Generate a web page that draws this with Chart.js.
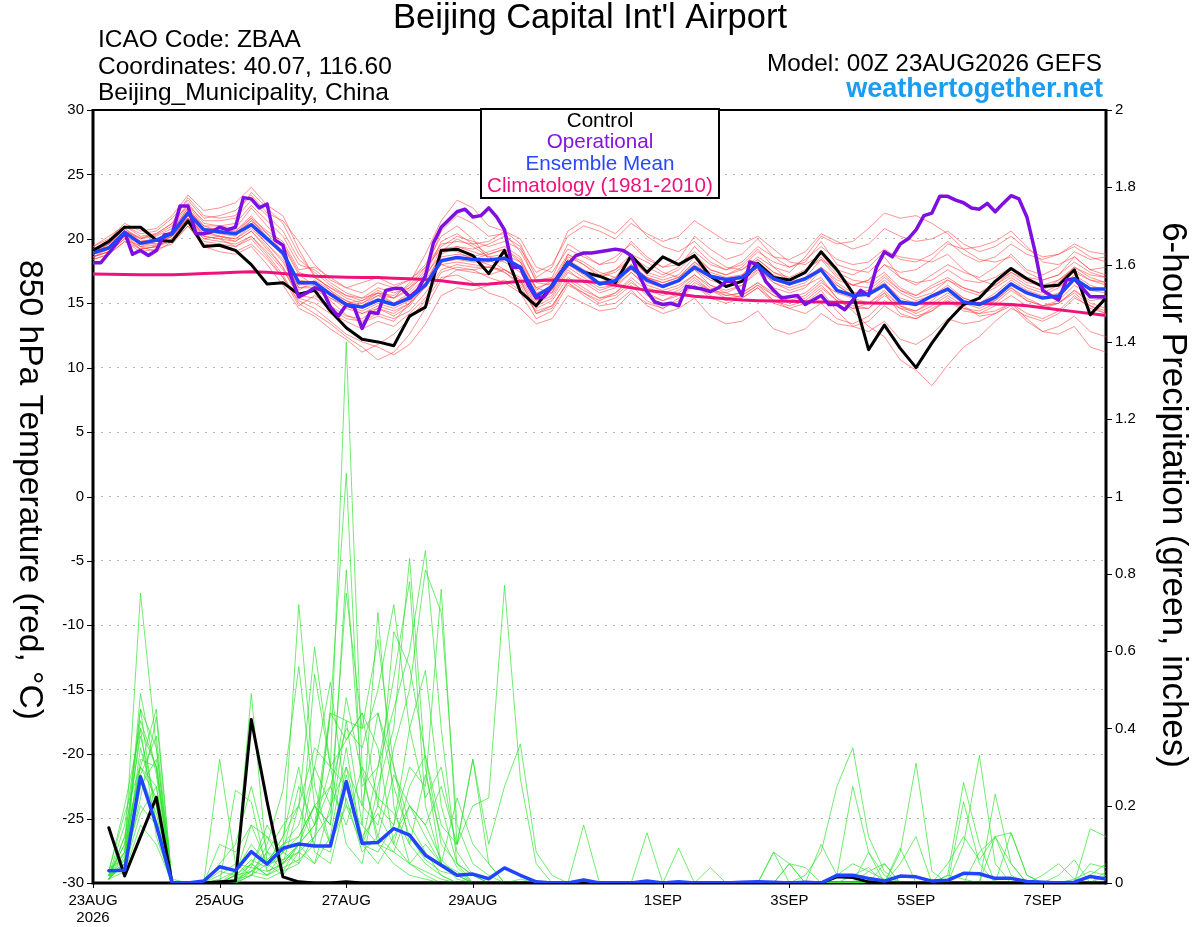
<!DOCTYPE html>
<html>
<head>
<meta charset="utf-8">
<script src="https://cdn.jsdelivr.net/npm/chart.js@4.4.1/dist/chart.umd.min.js"></script>
<style>
  html, body { margin: 0; padding: 0; background: #fff; }
  #wrap { width: 1200px; height: 927px; }
</style>
</head>
<body>
<div id="wrap"><canvas id="myChart" width="1200" height="927"></canvas></div>
<script>
// forecast hours (00Z 23AUG2026 GEFS)
const hours6 = [0,6,12,18,24,30,36,42,48,54,60,66,72,78,84,90,96,102,108,114,120,126,132,138,144,150,156,162,168,174,180,186,192,198,204,210,216,222,228,234,240,246,252,258,264,270,276,282,288,294,300,306,312,318,324,330,336,342,348,354,360,366,372,378,384];
const hours3 = [0,3,6,9,12,15,18,21,24,27,30,33,36,39,42,45,48,51,54,57,60,63,66,69,72,75,78,81,84,87,90,93,96,99,102,105,108,111,114,117,120,123,126,129,132,135,138,141,144,147,150,153,156,159,162,165,168,171,174,177,180,183,186,189,192,195,198,201,204,207,210,213,216,219,222,225,228,231,234,237,240,243,246,249,252,255,258,261,264,267,270,273,276,279,282,285,288,291,294,297,300,303,306,309,312,315,318,321,324,327,330,333,336,339,342,345,348,351,354,357,360,363,366,369,372,375,378,381,384];
const precipHours = hours6.slice(1);

const xTickHours = [0, 48, 96, 144, 216, 264, 312, 360];
const xTickLabels = [["23AUG", "2026"], "25AUG", "27AUG", "29AUG", "1SEP", "3SEP", "5SEP", "7SEP"];

// 850 hPa temperature (C)
const controlTemp = [19.1,19.8,20.9,20.9, 19.9,19.8,21.4,19.4, 19.5,19.1,18.0,16.5, 16.6,15.7,16.0,14.4,
  13.1,12.2,12.0,11.7, 14.0,14.7,19.1,19.2, 18.7,17.3,19.1,15.9, 14.8,16.4,18.2,17.4,
  17.1,16.6,18.7,17.4, 18.6,18.0,18.7,17.1, 16.3,16.7,18.1,17.0, 16.8,17.4,19.0,17.6,
  15.8,11.4,13.3,11.5, 10.0,11.9,13.6,14.9, 15.4,16.7,17.7,16.9, 16.3,16.4,17.6,14.1, 15.4];

const operationalTemp = [18.15,18.15,18.9,19.65,20.5,18.8,19.1,18.7,19.1,20.3,20.4,22.55,22.55,20.4,20.4,20.55,
  20.9,20.7,20.9,23.2,23.1,22.4,22.7,19.9,19.5,17.1,15.5,15.8,16.2,16.0,14.7,14.0,
  14.86,14.7,13.05,14.3,14.2,16.0,16.15,16.15,15.5,16.0,17.1,19.65,20.9,21.5,22.1,22.3,
  21.7,21.8,22.4,21.7,20.7,17.8,17.8,16.4,15.4,15.5,16.3,17.3,18.0,18.7,18.9,18.9,
  19.0,19.1,19.2,19.1,18.7,17.2,15.9,15.1,14.9,15.0,14.8,16.3,16.2,16.1,15.9,16.2,
  16.7,16.7,15.6,18.2,18.0,16.7,16.0,15.4,15.5,15.6,14.9,15.25,15.6,14.9,14.9,14.5,
  15.25,16.0,15.6,17.8,19.0,18.6,19.6,20.0,20.7,21.8,22.0,23.3,23.3,23.0,22.8,22.4,
  22.3,22.75,22.1,22.75,23.35,23.1,21.7,19.1,16.0,15.6,15.25,16.8,16.9,16.2,15.5,15.5, 15.5];

const meanTemp = [18.9,19.3,20.5,19.65, 19.9,20.4,22.0,20.7, 20.55,20.4,21.1,20.0, 18.9,16.6,16.6,15.7,
  14.9,14.7,15.25,14.9, 15.4,16.4,18.3,18.56, 18.4,18.36,18.5,17.8, 15.56,16.3,18.15,17.45,
  16.5,16.75,17.8,16.8, 16.3,16.75,17.8,17.1, 16.85,17.0,17.9,16.9, 16.5,16.9,17.6,16.0,
  15.6,15.7,16.4,15.1, 14.9,15.56,16.1,15.1, 14.9,15.46,16.5,15.8, 15.4,15.56,16.9,16.1, 16.1];

const climoTemp = [17.27,17.25,17.24,17.22, 17.22,17.22,17.25,17.3, 17.35,17.4,17.45,17.4, 17.3,17.2,17.1,17.05,
  17.02,17.0,17.0,16.95, 16.9,16.85,16.75,16.6, 16.45,16.5,16.6,16.7, 16.75,16.8,16.75,16.7,
  16.6,16.4,16.2,16.0, 15.85,15.7,15.55,15.45, 15.35,15.25,15.2,15.17, 15.15,15.12,15.1,15.08,
  15.05,15.02,15.0,15.0, 15.0,15.0,15.0,15.0, 14.98,14.95,14.9,14.8, 14.65,14.5,14.35,14.2, 14.05];

// ensemble members, 850 hPa temperature
const memberTemps = [
  [19.2,19.8,20.6,20.1, 20.3,21.0,22.8,21.2, 21.0,20.8,22.4,21.0, 19.5,17.2,16.4,15.2, 14.1,13.5,14.0,13.6, 15.0,17.2,19.8,20.4, 19.6,18.8,19.2,18.4, 16.2,15.8,18.8,18.2, 17.4,17.0,18.6,17.8, 17.2,17.8,19.4,18.2, 17.6,18.0,19.2,17.8, 16.8,17.4,18.6,17.2, 16.4,16.2,17.2,16.0, 15.6,16.4,17.0,16.2, 15.8,16.6,17.4,16.8, 16.2,16.6,17.8,17.0, 16.6],
  [18.6,19.0,20.2,19.4, 19.5,20.2,21.6,20.0, 20.2,19.8,20.6,19.2, 17.8,15.8,16.0,15.4, 14.8,15.0,15.8,15.6, 16.4,17.8,19.2,19.0, 18.4,18.0,17.4,16.6, 14.6,15.2,17.0,16.2, 15.4,15.6,16.6,15.8, 15.2,15.8,16.8,16.0, 15.6,15.8,16.6,15.8, 15.4,15.8,16.8,15.4, 14.8,14.6,15.8,14.2, 13.8,14.6,15.2,14.4, 14.2,14.8,15.6,14.8, 14.6,15.0,16.0,15.2, 15.4],
  [19.4,20.0,21.2,20.6, 20.8,21.8,23.4,22.2, 22.4,22.8,24.0,22.6, 21.8,19.2,17.0,16.2, 15.6,15.2,15.8,15.4, 16.0,17.4,20.6,21.8, 21.2,20.2,20.4,19.0, 16.8,17.0,19.6,18.8, 18.0,18.2,19.8,18.6, 17.8,18.4,20.2,19.2, 18.4,18.8,20.0,18.6, 17.8,18.2,19.8,18.0, 17.6,17.4,18.6,17.0, 16.4,17.2,18.0,17.4, 17.0,17.8,18.8,17.6, 17.2,17.8,19.0,18.4, 18.6],
  [18.4,18.8,19.8,19.0, 19.2,19.6,21.0,19.6, 19.4,19.0,19.6,18.4, 17.0,15.2,14.6,13.6, 12.6,12.0,11.6,11.0, 11.8,13.4,15.6,16.2, 16.0,16.4,16.8,16.0, 14.4,14.8,16.6,15.8, 15.0,15.4,16.4,15.2, 14.6,15.2,16.4,15.4, 15.0,15.4,16.2,15.0, 14.6,15.0,16.0,14.4, 13.2,12.8,13.6,12.2, 11.8,12.6,13.8,13.4, 13.6,14.2,15.0,14.2, 13.8,14.4,15.6,14.6, 14.2],
  [19.0,19.6,20.8,19.8, 20.0,20.6,22.4,20.8, 20.4,20.2,21.4,20.4, 19.6,17.4,17.0,16.2, 15.4,15.0,15.6,15.0, 15.6,16.8,18.6,18.8, 18.6,19.0,19.4,18.6, 16.0,16.8,18.8,18.0, 17.0,17.4,18.4,17.2, 16.8,17.2,18.6,17.6, 17.2,17.6,18.6,17.8, 17.4,18.6,20.2,19.6, 19.8,20.8,22.0,21.6, 21.8,21.2,20.4,19.2, 18.4,18.2,18.6,17.4, 16.8,17.2,18.2,17.4, 17.0],
  [18.8,19.2,20.4,19.6, 19.6,20.0,21.8,20.4, 20.6,20.4,21.4,20.2, 18.6,16.2,16.2,15.4, 14.6,14.2,14.8,14.4, 15.0,16.2,18.2,18.4, 18.2,18.2,18.6,17.8, 15.4,16.0,18.0,17.2, 16.4,16.8,17.6,16.6, 16.2,16.8,17.6,16.8, 16.4,16.8,17.6,16.6, 16.0,16.4,17.0,15.4, 14.4,13.2,12.4,10.6, 9.8,8.6,10.2,11.6, 12.4,13.6,14.6,14.0, 13.6,14.2,15.4,14.8, 14.4],
  [19.0,19.4,20.6,19.4, 19.8,20.4,22.2,20.6, 20.2,20.0,21.0,19.6, 18.2,16.0,16.8,16.0, 15.2,14.6,15.2,14.8, 15.6,16.6,18.0,17.6, 17.6,17.8,17.6,17.0, 15.0,15.6,17.6,16.6, 15.8,16.2,17.4,16.2, 15.8,16.2,17.2,16.4, 16.0,16.4,17.4,16.2, 15.8,16.2,17.6,16.4, 15.6,15.8,16.6,15.4, 15.0,15.6,16.2,15.2, 15.0,15.6,16.6,15.8, 15.4,15.8,16.8,16.0, 15.8],
  [18.8,19.4,20.4,19.8, 20.0,20.6,22.2,21.0, 21.0,21.2,22.6,21.4, 20.2,18.0,17.6,16.6, 15.8,15.4,16.2,15.8, 16.2,17.6,19.4,20.2, 19.8,19.4,19.8,19.2, 17.4,18.0,20.2,21.0, 20.6,20.0,21.2,20.4, 19.8,20.2,21.4,20.6, 19.8,19.6,20.2,19.2, 18.2,18.0,18.8,17.4, 16.8,16.6,17.4,16.2, 15.6,16.2,16.8,16.0, 15.6,16.2,17.0,16.2, 15.8,16.4,17.4,16.8, 16.6],
  [18.6,19.0,20.0,19.2, 19.4,20.0,21.4,20.0, 19.8,19.6,20.2,19.0, 17.6,15.6,15.4,14.6, 13.8,13.6,14.2,13.8, 14.4,15.8,17.6,18.0, 17.8,17.8,18.4,17.6, 15.2,15.8,17.8,17.0, 16.2,16.4,17.4,16.4, 16.0,16.4,17.2,16.2, 15.6,15.8,16.6,15.6, 15.0,15.4,16.4,15.2, 14.6,14.6,15.6,14.6, 14.0,14.4,15.2,14.6, 14.2,14.4,15.0,13.8, 12.8,12.6,13.2,11.6, 11.2],
  [19.2,19.8,21.0,20.2, 20.4,21.2,22.6,21.4, 21.4,21.6,23.0,21.8, 20.6,18.4,17.4,16.4, 15.6,15.4,15.8,15.0, 15.8,17.0,19.2,19.4, 19.0,18.6,18.2,17.4, 15.4,16.4,18.4,17.6, 17.0,17.6,18.8,18.2, 17.4,17.0,18.2,17.4, 17.0,17.2,18.4,17.4, 17.0,17.6,18.4,17.0, 16.4,16.8,18.0,17.0, 16.6,16.8,17.6,16.8, 16.6,17.0,17.8,17.0, 16.8,17.2,18.6,17.6, 17.8],
  [18.6,19.2,20.2,19.2, 19.4,20.0,21.6,20.2, 20.0,19.4,20.2,18.8, 17.2,15.0,14.2,13.4, 12.4,11.6,10.6,11.2, 12.6,14.6,16.8,17.6, 17.4,17.2,17.6,16.8, 14.2,14.6,16.8,16.0, 15.4,15.8,16.8,15.6, 15.2,15.6,16.4,15.6, 15.2,15.6,16.4,15.2, 14.8,15.2,16.2,15.2, 14.6,15.0,16.0,14.8, 14.4,15.0,15.8,15.0, 14.6,15.2,16.2,15.2, 14.8,15.0,16.0,15.0, 14.6],
  [19.0,19.6,20.8,20.0, 20.4,21.2,23.2,21.8, 21.6,21.8,23.6,22.4, 21.2,18.8,17.2,16.0, 14.8,14.2,14.6,14.0, 14.8,16.4,19.0,20.0, 19.4,18.6,18.8,18.2, 16.2,16.6,18.6,18.0, 17.2,17.6,18.4,17.4, 17.0,17.6,18.8,17.6, 17.2,17.8,19.0,18.2, 17.8,18.4,19.4,18.4, 18.0,18.2,19.2,18.4, 18.2,18.8,19.8,18.8, 18.2,18.6,19.6,18.8, 18.4,18.8,19.6,19.0, 18.8],
  [18.8,19.4,20.4,19.8, 19.6,20.2,21.8,20.6, 20.4,20.6,21.6,20.0, 18.8,16.4,16.6,15.8, 15.0,15.2,16.0,15.4, 16.2,17.2,18.8,19.4, 19.2,19.6,20.2,19.4, 16.6,16.4,18.2,17.4, 16.6,16.8,18.0,17.0, 16.6,17.0,18.2,17.2, 16.8,17.0,17.8,16.6, 16.2,16.6,17.6,16.4, 15.6,15.8,16.8,15.8, 15.2,15.6,16.4,15.4, 15.0,15.2,16.2,15.4, 14.8,15.0,15.8,14.8, 14.2],
  [19.0,19.4,20.6,19.8, 19.8,20.6,22.4,20.8, 20.8,20.6,21.8,20.4, 19.0,16.8,16.6,15.8, 15.2,14.8,15.6,15.4, 16.6,18.8,21.4,23.0, 22.4,21.0,20.6,19.6, 17.0,17.8,20.6,21.4, 21.0,20.4,21.6,20.2, 19.4,19.0,19.8,18.6, 17.8,17.6,18.4,17.4, 16.8,16.8,17.8,16.6, 15.8,16.0,17.0,16.0, 15.4,15.8,16.8,16.2, 15.8,16.4,17.4,16.6, 16.4,16.8,17.6,16.8, 16.4],
  [18.8,19.2,20.2,19.6, 19.8,20.2,21.6,20.4, 20.2,20.0,20.8,19.6, 18.4,16.2,16.4,15.6, 14.8,14.4,15.0,14.6, 15.2,16.4,18.0,18.2, 18.0,17.8,17.4,16.4, 14.2,14.8,16.6,15.6, 14.8,15.0,16.0,14.8, 14.2,14.6,15.4,14.0, 13.4,13.6,14.4,13.0, 12.6,13.0,14.2,13.4, 13.2,13.6,14.8,14.0, 13.8,14.4,15.4,14.6, 14.4,15.0,16.0,15.2, 14.8,15.2,16.4,15.6, 15.2],
  [18.4,18.8,19.8,19.2, 19.4,19.8,21.2,19.8, 19.6,19.4,20.0,18.6, 17.0,14.8,15.6,14.8, 14.0,13.8,14.6,14.2, 15.0,16.4,18.4,18.6, 18.4,18.8,19.2,18.2, 15.8,16.2,18.2,17.4, 16.6,17.0,18.0,17.0, 16.6,17.0,18.0,17.2, 16.8,17.2,18.2,17.2, 16.6,17.0,17.8,16.8, 16.4,16.8,18.0,17.4, 17.6,18.4,19.6,19.2, 19.4,19.8,20.6,19.4, 18.2,18.0,18.6,17.6, 17.2],
  [19.4,20.2,21.0,20.4, 20.6,21.6,23.0,21.6, 21.8,22.2,23.4,22.0, 21.4,19.8,18.0,16.8, 16.2,16.6,17.0,16.4, 16.8,18.0,20.2,21.0, 20.0,18.4,17.6,16.8, 14.8,15.4,17.4,16.8, 16.0,16.4,17.8,17.0, 16.4,16.8,17.6,16.4, 15.8,15.4,16.2,15.2, 14.6,14.2,15.0,13.8, 13.4,14.0,15.2,14.6, 14.4,15.2,16.2,15.4, 15.0,15.8,16.8,16.0, 15.6,16.2,17.2,16.4, 16.0],
  [18.6,19.0,20.0,19.4, 19.0,19.8,21.0,19.4, 19.0,18.8,19.4,18.0, 16.4,14.6,14.0,13.0, 12.2,11.2,11.8,12.6, 13.8,15.2,17.0,17.2, 16.6,15.8,15.4,14.6, 13.4,13.8,15.6,15.0, 14.4,14.6,15.8,15.0, 14.6,15.4,16.6,16.0, 15.8,16.4,17.6,16.8, 16.4,17.0,18.4,17.6, 17.2,17.8,19.0,18.6, 18.4,18.2,18.8,17.6, 16.8,16.4,17.2,16.4, 16.0,16.8,17.8,17.2, 17.0],
  [18.8,19.6,20.6,20.0, 20.2,20.8,22.6,21.0, 20.6,20.4,21.6,20.6, 19.8,17.6,17.8,17.0, 16.2,15.8,16.6,16.2, 16.8,17.8,19.6,19.8, 19.6,19.8,20.6,20.0, 17.8,17.4,19.2,18.6, 18.0,18.6,19.6,18.4, 17.8,18.0,19.0,18.0, 17.6,18.2,19.4,18.6, 18.4,19.0,20.4,19.8, 19.2,19.6,20.8,20.2, 19.8,20.0,20.6,19.6, 19.0,19.4,20.2,19.2, 18.6,18.8,19.4,18.6, 18.2],
  [19.0,19.4,20.4,19.6, 19.8,20.4,21.8,20.2, 20.0,19.8,20.6,19.4, 17.8,15.4,15.0,14.2, 13.6,13.0,13.6,13.2, 14.2,15.4,17.4,17.8, 17.6,17.0,16.6,15.8, 13.8,14.4,16.4,15.8, 15.2,15.8,17.0,16.0, 15.6,16.0,17.0,16.0, 15.4,15.6,16.4,15.6, 15.2,15.6,16.6,15.8, 15.4,15.0,15.8,14.8, 14.2,14.8,15.6,14.8, 14.0,14.2,14.8,13.6, 12.8,13.2,14.0,12.8, 12.4]
];

// 6-hour precipitation (inches), valid at precipHours
const controlPrecip = [0.143,0.018,0.12,0.222,0,0,0,0.003, 0.005,0.423,0.21,0.016,0.003,0,0,0.003,
  0,0,0,0,0,0,0,0, 0,0,0,0,0,0,0,0, 0,0,0,0,0,0,0,0, 0,0,0,0,0,0,0.016,0.014,
  0.003,0,0,0,0,0,0,0, 0,0,0,0,0,0,0,0];
const meanPrecip = [0.032,0.033,0.275,0.15,0,0,0.005,0.042, 0.032,0.081,0.049,0.09,0.101,0.096,0.096,0.262,
  0.103,0.105,0.141,0.124,0.072,0.046,0.02,0.023, 0.011,0.039,0.02,0.003,0,0,0.008,0,
  0,0,0.005,0,0.003,0,0,0, 0.002,0.003,0.002,0,0.002,0,0.02,0.02,
  0.012,0.005,0.018,0.016,0.005,0.007,0.025,0.024, 0.012,0.012,0.004,0.002,0,0.002,0.017,0.01];
const memberPrecips = [
  [.02,.15,.42,.30,0,0,0,.01, .03,.10,.05,.12,.20,.35,.30,1.40, .30,.10,.05,.02,.01,0,0,0, 0,0,.01,0,0,0,0,0, 0,0,0,0,0,0,0,0, 0,0,0,0,0,0,.02,.05, .03,.01,0,0,0,.02,.01,0, 0,0,0,0,0,.01,.03,.02],
  [.03,.08,.75,.35,0,0,0,0, 0,.05,.12,.08,.25,.15,.45,1.06, .20,.44,.30,.10,.05,.02,0,0, 0,0,0,0,0,0,.01,0, 0,0,0,0,0,0,0,0, 0,0,0,0,.02,.08,.25,.35, .12,.03,0,0,0,0,0,0, 0,0,0,.02,.05,.01,0,0],
  [.01,.05,.35,.20,0,0,0,.02, .05,.02,.08,.03,.10,.20,.15,.81, .25,.30,.45,.60,.86,.40,.05,.02, 0,0,0,0,0,0,0,0, 0,0,0,0,0,0,0,0, 0,0,0,0,0,0,0,0, 0,0,.08,.31,.03,0,0,0, 0,0,0,0,0,0,0,0],
  [.02,.10,.30,.25,0,0,0,0, .01,.05,.02,.08,.72,.25,.10,.20, .15,.70,.20,.05,.02,0,0,0, 0,0,0,0,0,0,.01,0, 0,0,0,0,0,0,0,0, 0,0,0,0,0,0,0,0, 0,0,0,0,0,0,.10,.33, .05,0,0,0,0,0,0,.02],
  [.01,.05,.45,.15,0,0,0,0, .02,.15,.05,.02,.08,.05,.12,.35, .10,.20,.15,.30,.25,.76,.10,.20, .22,.77,.27,.05,0,0,0,0, 0,0,0,0,0,0,0,0, 0,0,0,0,0,0,0,0, 0,0,0,0,0,0,0,0, 0,.13,.02,0,0,0,0,0],
  [.03,.20,.40,.30,.01,0,0,.05, .10,.25,.08,.15,.20,.61,.30,.10, .05,.25,.40,.84,.30,.05,.01,0, 0,0,0,0,0,0,.15,0, 0,0,0,0,0,0,0,0, 0,0,0,.05,0,0,0,0, 0,0,0,0,0,0,.21,.05, 0,0,0,0,0,0,.14,.12],
  [.02,.08,.30,.45,0,0,0,0, 0,.03,.02,.05,.10,.15,.25,.40, .35,.50,.72,.40,.55,.20,.05,0, 0,0,0,0,0,0,0,0, 0,0,.13,0,0,0,0,0, 0,0,0,0,0,0,0,0, .08,0,.09,0,0,0,0,0, 0,0,0,0,0,0,0,0],
  [.01,.12,.38,.20,0,0,0,.03, .02,.49,.05,.10,.15,.30,.52,.20, .10,.05,.12,.20,.15,.25,.10,.32, .05,0,0,0,0,0,0,0, 0,0,0,0,.09,0,0,0, 0,0,0,0,0,0,0,0, 0,0,0,0,0,0,0,0, .12,.13,.02,0,0,0,0,0],
  [.02,.05,.25,.32,0,0,0,0, 0,.02,.10,.24,.56,.20,.15,.42, .40,.63,.30,.15,.08,.02,0,0, 0,0,0,0,0,0,0,0, 0,0,0,0,0,0,.04,0, 0,0,.08,.05,0,0,0,0, 0,0,0,0,0,.02,.26,.10, 0,0,0,0,0,0,0,0],
  [.01,.06,.28,.18,0,0,0,.32, .05,.04,.03,.05,.08,.12,.44,.37, .44,.20,.65,.56,.33,.10,.05,.02, 0,0,0,0,0,0,0,0, 0,0,0,0,0,0,0,0, 0,0,0,0,0,.10,.02,.25, .08,.02,0,0,0,0,0,0, .23,.05,0,0,0,0,0,.03],
  [.03,.18,.30,.22,0,0,0,0, .24,.21,.03,.05,.10,.15,.30,.25, .10,.30,.53,.78,.20,.05,.02,0, 0,0,0,0,0,0,0,0, 0,0,0,0,0,0,0,0, 0,0,0,0,0,0,0,0, 0,.05,0,0,0,0,0,.08, .12,.05,0,0,0,0,.02,.05],
  [.02,.10,.45,.35,0,0,0,0, .01,.03,.06,.10,.12,.20,.10,.30, .20,.15,.35,.50,.81,.70,.15,.05, .02,0,0,0,0,0,0,0, 0,0,0,0,0,0,0,0, 0,0,.08,0,0,0,0,0, 0,0,0,0,0,0,0,0, 0,0,0,0,0,0,0,0],
  [.01,.05,.49,.28,0,0,0,0, .02,.05,.02,.04,.06,.10,.44,.42, .15,.10,.08,.05,.10,.05,.22,.10, .05,0,0,0,0,0,0,0, 0,0,0,0,0,0,0,0, 0,0,0,0,0,0,0,0, .03,.05,0,0,0,0,0,0, 0,0,0,0,0,0,0,0],
  [.02,.04,.22,.43,0,0,0,0, 0,.02,.01,.03,.05,.54,.30,.37, .44,.35,.10,.05,.03,.01,0,0, 0,0,0,0,0,0,0,0, 0,0,0,0,0,0,0,0, 0,0,0,.05,.04,0,0,0, 0,0,0,0,0,.05,.12,.06, .12,.02,0,0,0,0,0,0],
  [.01,.07,.32,.30,0,0,0,0, .03,.08,.05,.06,.08,.30,.20,.75, .40,.44,.25,.12,.06,.03,.02,0, 0,0,0,0,0,0,0,0, 0,0,0,0,0,0,0,0, 0,0,0,0,0,0,0,0, 0,0,0,0,0,0,0,0, 0,0,0,0,0,0,.05,.04],
  [.01,.03,.15,.10,0,0,0,0, .02,.03,.08,.06,.10,.05,.20,.30, .12,.18,.10,.25,.33,.15,.10,.32, .10,.25,.36,.08,.02,0,0,0, 0,0,0,0,0,0,0,0, 0,0,0,0,0,0,0,.02, .04,0,0,0,0,0,0,0, 0,0,0,0,0,0,0,0],
  [.02,.12,.28,.38,0,0,0,0, .02,.06,.04,.08,.12,.20,.25,.15, .30,.22,.18,.10,.28,.12,.04,0, 0,0,0,0,0,0,0,0, 0,0,0,0,0,0,0,0, 0,0,0,0,0,0,0,0, 0,0,0,0,0,0,0,0, 0,0,0,0,0,0,0,0],
  [.04,.06,.20,.15,0,0,0,.10, .08,.15,.12,.05,.20,.10,.08,.28, .10,.08,.15,.40,.22,.30,.08,.02, 0,0,0,0,0,0,0,0, 0,0,0,0,0,0,0,0, 0,0,0,0,0,0,0,0, 0,0,.05,.12,0,0,0,0, 0,0,0,0,0,0,0,0],
  [.01,.08,.40,.12,0,0,0,0, .01,.02,.05,.12,.30,.08,.05,.22, .08,.12,.28,.20,.15,.06,.02,0, 0,0,0,0,0,0,0,0, 0,0,0,0,0,0,0,0, 0,0,0,0,0,0,0,0, 0,0,0,0,0,0,0,0, 0,0,0,0,.02,.06,0,0],
  [.02,.04,.18,.25,0,0,0,0, 0,.04,.15,.08,.05,.12,.18,.48, .28,.12,.08,.20,.12,.05,.03,0, 0,0,0,0,0,0,0,0, 0,0,0,0,0,0,0,0, 0,0,0,0,0,0,0,0, 0,0,0,0,0,0,0,0, 0,0,0,0,0,0,0,0]
];

const FONT = "'Liberation Sans', Arial, sans-serif";
const pts = (xs, ys) => ys.map((y, k) => ({ x: xs[k], y: y }));

const datasets = [
  { label: "Ensemble Mean", data: pts(hours6, meanTemp), borderColor: "#2145ff", borderWidth: 3.5, yAxisID: "y", order: 1 },
  { label: "Operational", data: pts(hours3, operationalTemp), borderColor: "#7f0fe0", borderWidth: 3.5, yAxisID: "y", order: 2 },
  { label: "Control", data: pts(hours6, controlTemp), borderColor: "#000000", borderWidth: 3, yAxisID: "y", order: 3 },
  { label: "Climatology", data: pts(hours6, climoTemp), borderColor: "#f0127c", borderWidth: 3, yAxisID: "y", order: 4 },
  { label: "Mean precip", data: pts(precipHours, meanPrecip), borderColor: "#2145ff", borderWidth: 3.5, yAxisID: "y2", order: 5 },
  { label: "Control precip", data: pts(precipHours, controlPrecip), borderColor: "#000000", borderWidth: 3, yAxisID: "y2", order: 6 }
];
memberPrecips.forEach((m, k) => datasets.push({
  label: "p" + k, data: pts(precipHours, m), borderColor: "rgba(45,225,45,0.85)", borderWidth: 0.8, yAxisID: "y2", order: 10
}));
memberTemps.forEach((m, k) => datasets.push({
  label: "t" + k, data: pts(hours6, m), borderColor: "rgba(255,60,60,0.7)", borderWidth: 0.8, yAxisID: "y", order: 11
}));

function fitSize(ctx, text, width, weight) {
  ctx.font = (weight || "") + " 100px " + FONT;
  return 100 * width / ctx.measureText(text).width;
}
function put(ctx, text, x, y, size, align, color, weight) {
  ctx.font = (weight || "") + " " + size + "px " + FONT;
  ctx.textAlign = align;
  ctx.fillStyle = color;
  ctx.fillText(text, x, y);
}

const decor = {
  id: "decor",
  beforeDraw(chart) {
    const ctx = chart.ctx;
    ctx.save();
    ctx.fillStyle = "#fff";
    ctx.fillRect(0, 0, chart.width, chart.height);
    ctx.restore();
  },
  beforeDatasetsDraw(chart) {
    const ctx = chart.ctx, a = chart.chartArea;
    ctx.save();
    ctx.strokeStyle = "#000";
    ctx.lineWidth = 2;
    ctx.beginPath(); ctx.moveTo(a.left, a.top); ctx.lineTo(a.right, a.top); ctx.stroke();
    ctx.lineWidth = 3;
    ctx.beginPath(); ctx.moveTo(a.left, a.top - 1); ctx.lineTo(a.left, a.bottom + 1.5); ctx.stroke();
    ctx.beginPath(); ctx.moveTo(a.right, a.top - 1); ctx.lineTo(a.right, a.bottom + 1.5); ctx.stroke();
    ctx.beginPath(); ctx.moveTo(a.left, a.bottom); ctx.lineTo(a.right, a.bottom); ctx.stroke();
    // tick marks
    ctx.lineWidth = 1;
    const y = chart.scales.y, y2 = chart.scales.y2, x = chart.scales.x;
    y.ticks.forEach(t => {
      const p = Math.round(y.getPixelForValue(t.value)) + 0.5;
      ctx.beginPath(); ctx.moveTo(a.left - 6, p); ctx.lineTo(a.left, p); ctx.stroke();
    });
    y2.ticks.forEach(t => {
      const p = Math.round(y2.getPixelForValue(t.value)) + 0.5;
      ctx.beginPath(); ctx.moveTo(a.right, p); ctx.lineTo(a.right + 6, p); ctx.stroke();
    });
    xTickHours.forEach(h => {
      const p = Math.round(x.getPixelForValue(h)) + 0.5;
      ctx.beginPath(); ctx.moveTo(p, a.bottom); ctx.lineTo(p, a.bottom + 5); ctx.stroke();
    });
    ctx.restore();
  },
  afterDatasetsDraw(chart) {
    const ctx = chart.ctx;
    ctx.save();
    // legend box
    ctx.fillStyle = "#fff";
    ctx.fillRect(480, 109, 239, 89);
    ctx.strokeStyle = "#000";
    ctx.lineWidth = 2;
    ctx.strokeRect(481, 109, 238, 89);
    const ls = fitSize(ctx, "Climatology (1981-2010)", 226);
    ctx.textBaseline = "middle";
    put(ctx, "Control", 600, 121, ls, "center", "#000");
    put(ctx, "Operational", 600, 142.5, ls, "center", "#8614e0");
    put(ctx, "Ensemble Mean", 600, 164, ls, "center", "#2a46ff");
    put(ctx, "Climatology (1981-2010)", 600, 186, ls, "center", "#f0127c");
    ctx.restore();
  },
  afterDraw(chart) {
    const ctx = chart.ctx;
    ctx.save();
    ctx.textBaseline = "alphabetic";
    const title = "Beijing Capital Int'l Airport";
    put(ctx, title, 590, 27.5, fitSize(ctx, title, 394), "center", "#000");
    const hs = fitSize(ctx, "Coordinates: 40.07, 116.60", 294);
    put(ctx, "ICAO Code: ZBAA", 98, 47, hs, "left", "#000");
    put(ctx, "Coordinates: 40.07, 116.60", 98, 73.5, hs, "left", "#000");
    put(ctx, "Beijing_Municipality, China", 98, 100, hs, "left", "#000");
    const model = "Model: 00Z 23AUG2026 GEFS";
    put(ctx, model, 1102, 70.5, fitSize(ctx, model, 335), "right", "#000");
    const site = "weathertogether.net";
    put(ctx, site, 1103, 96.5, fitSize(ctx, site, 257, "bold"), "right", "#1a9cf0", "bold");

    // axis titles, rotated clockwise
    ctx.textBaseline = "middle";
    const lt = "850 hPa Temperature (red, \u00B0C)";
    ctx.save();
    ctx.translate(29, 490);
    ctx.rotate(Math.PI / 2);
    put(ctx, lt, 0, 0, fitSize(ctx, lt, 460), "center", "#000");
    ctx.restore();
    const rt = "6-hour Precipitation (green, inches)";
    ctx.save();
    ctx.translate(1173, 495);
    ctx.rotate(Math.PI / 2);
    put(ctx, rt, 0, 0, fitSize(ctx, rt, 546), "center", "#000");
    ctx.restore();
    ctx.restore();
  }
};

const ctx = document.getElementById("myChart").getContext("2d");
const chart = new Chart(ctx, {
  type: "line",
  data: { datasets },
  plugins: [decor],
  options: {
    responsive: false,
    animation: false,
    devicePixelRatio: 1,
    layout: { padding: { top: 110, left: 0, right: 0, bottom: 0 } },
    elements: { point: { radius: 0 }, line: { tension: 0, borderJoinStyle: "round", borderCapStyle: "round" } },
    plugins: { legend: { display: false }, tooltip: { enabled: false } },
    scales: {
      x: {
        type: "linear", min: 0, max: 384,
        afterFit: (s) => { s.height = 44; },
        afterBuildTicks: (s) => { s.ticks = xTickHours.map(v => ({ value: v })); },
        grid: { display: false },
        border: { display: false },
        ticks: {
          autoSkip: false, maxRotation: 0, padding: 1, color: "#000",
          font: { family: FONT, size: 15, lineHeight: 1.15 },
          callback: (v) => xTickLabels[xTickHours.indexOf(v)]
        }
      },
      y: {
        position: "left", min: -30, max: 30,
        afterFit: (s) => { s.width = 93; },
        grid: { color: "#b8b8b8", lineWidth: 1, drawTicks: false },
        border: { display: false, dash: [2, 6] },
        ticks: { stepSize: 5, padding: 9, color: "#000", font: { family: FONT, size: 15 } }
      },
      y2: {
        position: "right", min: 0, max: 2,
        afterFit: (s) => { s.width = 94; },
        grid: { display: false, drawTicks: false },
        border: { display: false },
        ticks: {
          stepSize: 0.2, padding: 9, color: "#000", font: { family: FONT, size: 15 },
          callback: (v) => String(+v.toFixed(1))
        }
      }
    }
  }
});
</script>
</body>
</html>
